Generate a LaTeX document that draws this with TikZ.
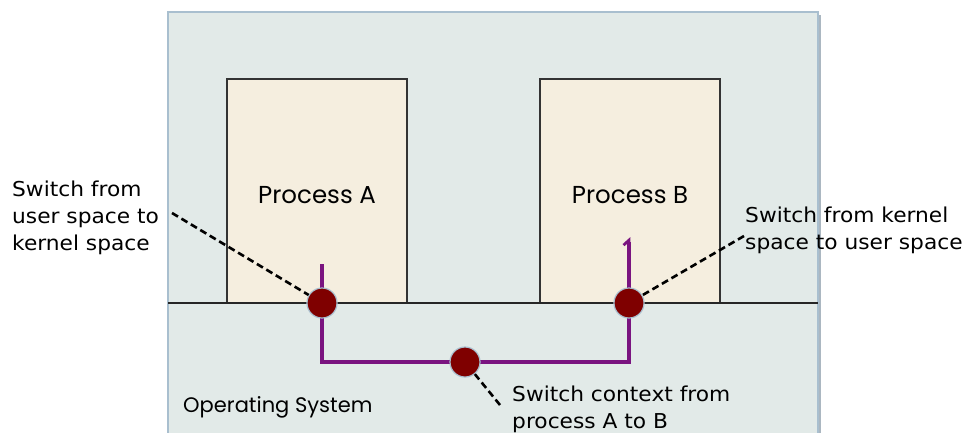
\documentclass[tikz,border=0pt]{standalone}
\usepackage{fontspec}
\setmainfont{Poppins}
\newfontfamily\notefont[FakeStretch=1.06]{DejaVu Sans}
\usetikzlibrary{arrows.meta}
\definecolor{osbg}{HTML}{E2EAE8}
\definecolor{osedge}{HTML}{A9BFCF}
\definecolor{procbg}{HTML}{F5EEDF}
\definecolor{switchred}{HTML}{7F0000}
\definecolor{flow}{HTML}{7A1480}
\tikzset{
  procbox/.style={draw=black!80, line width=2pt, fill=procbg},
  proclabel/.style={font=\fontsize{24.5}{28}\selectfont, inner sep=0pt, anchor=base},
  switchdot/.style={circle, fill=switchred, draw=osedge, line width=1.2pt, minimum size=30pt, inner sep=0pt},
  callout/.style={line width=2.6pt, dash pattern=on 7pt off 4pt},
  note/.style={font=\notefont\fontsize{20.5}{27}\selectfont, align=left, inner sep=0pt},
  flowline/.style={draw=flow, line width=3.2pt},
}
\begin{document}
\begin{tikzpicture}[x=1pt,y=-1pt]
\useasboundingbox (0,0) rectangle (967,432);
\clip (0,0) rectangle (967,432);
% operating system area with a soft shadow on the right
\fill[osedge!80!black!70] (171,15) rectangle (821,445);
\draw[fill=osbg, draw=osedge, line width=1.2pt] (168,12) rectangle (818,445);
\node[anchor=base west, font=\fontsize{21}{24}\selectfont, inner sep=0pt] (os) at (183,412) {Operating System};
% user space / kernel space boundary
\coordinate (bl) at (168,303);
\coordinate (br) at (818,303);
% processes
\draw[procbox] (227,79) rectangle (407,303);
\draw[procbox] (540,79) rectangle (720,303);
\draw[line width=2pt, black!85] (bl) -- (br);
\node[proclabel] (pa) at (317,203) {Process A};
\node[proclabel] (pb) at (630,203) {Process B};
% control flow path
\coordinate (fa) at (322,264);
\coordinate (fb) at (629,237);
\draw[flowline, -{Straight Barb[left, length=5pt, width=11pt, line width=2.8pt]}]
  (fa) -- (322,362) -- (629,362) -- (fb);
% switch points
\node[switchdot] (sa) at (322,303) {};
\node[switchdot] (sb) at (629,303) {};
\node[switchdot] (sc) at (465,362) {};
% notes
\node[note, anchor=north west] (na) at (12,180.5) {Switch from\\user space to\\kernel space};
\node[note, anchor=north west] (nb) at (745,206.5) {Switch from kernel\\space to user space};
\node[note, anchor=north west] (nc) at (512,385.5) {Switch context from\\process A to B};
\coordinate (ca) at (172,213);
\coordinate (cb) at (744,236);
\coordinate (cc) at (500,405);
\draw[callout] (ca) -- (sa);
\draw[callout] (cb) -- (sb);
\draw[callout] (cc) -- (sc);
\end{tikzpicture}
\end{document}
